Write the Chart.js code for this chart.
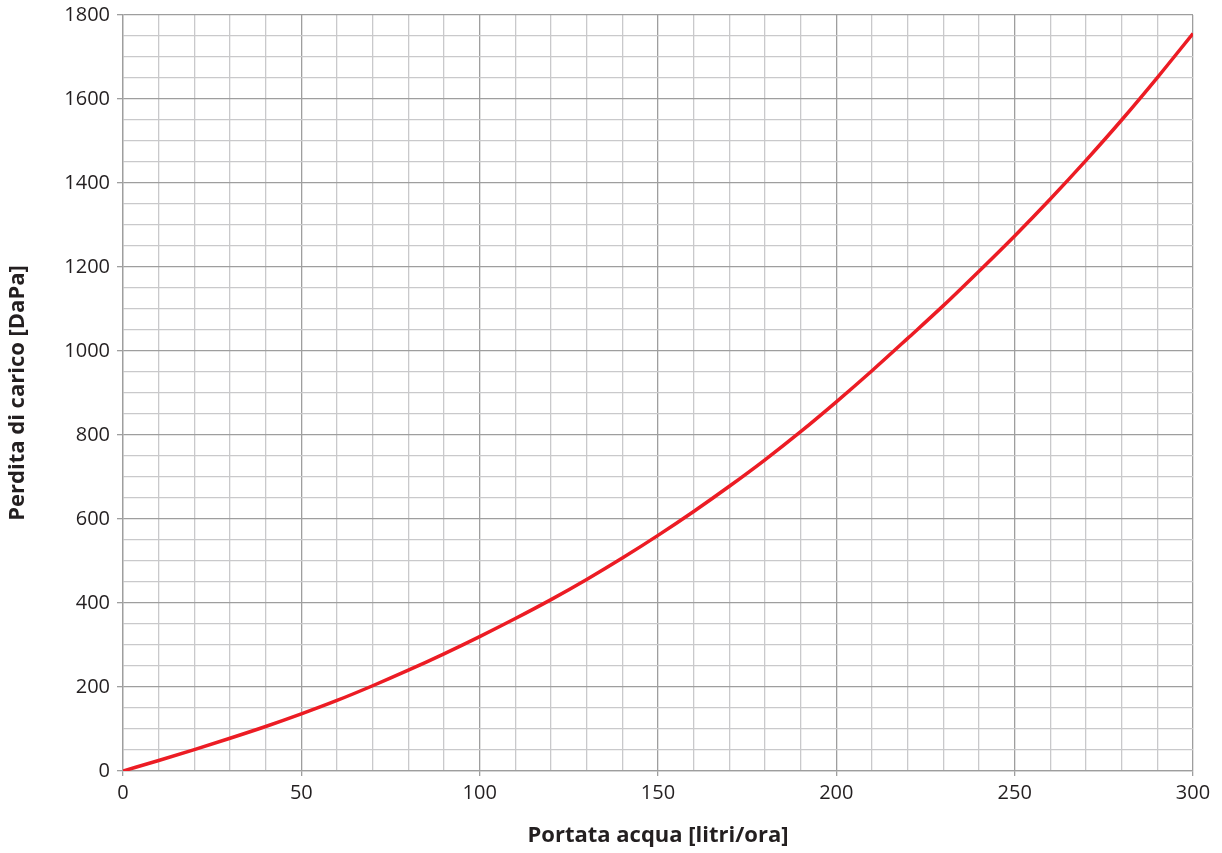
<!DOCTYPE html>
<html>
<head>
<meta charset="utf-8">
<script src="https://cdn.jsdelivr.net/npm/chart.js@4"></script>
<style>
  html, body { margin: 0; padding: 0; background: #fff; }
  #chart { display: block; }
</style>
</head>
<body>
<canvas id="chart" width="1222" height="853"></canvas>
<script>
// flow (litri/ora) and pressure drop (DaPa), every 10 l/h
const portata = [0, 10, 20, 30, 40, 50, 60, 70, 80, 90, 100, 110, 120, 130, 140, 150,
  160, 170, 180, 190, 200, 210, 220, 230, 240, 250, 260, 270, 280, 290, 300];
const perdita = [0, 25, 51, 78, 106, 136, 168, 203, 240, 279, 320, 363, 408, 456, 507, 561,
  618, 678, 741, 808, 879, 953, 1030, 1108, 1190, 1274, 1362, 1454, 1550, 1651, 1756];

const xTitle = "Portata acqua [litri/ora]";
const yTitle = "Perdita di carico [DaPa]";

const majorColor = "#9e9e9e";
const minorColor = "#c9c9cb";
const textColor = "#231f20";

new Chart(document.getElementById("chart"), {
  type: "line",
  data: {
    datasets: [
      {
        data: portata.map((x, i) => ({ x: x, y: perdita[i] })),
        borderColor: "#ec1c24",
        borderWidth: 3.5,
        pointRadius: 0,
        cubicInterpolationMode: "monotone",
        fill: false,
      },
    ],
  },
  options: {
    responsive: false,
    animation: false,
    layout: { padding: { left: 0, right: 29, top: 15, bottom: 0 } },
    plugins: {
      legend: { display: false },
      tooltip: { enabled: false },
    },
    scales: {
      x: {
        type: "linear",
        min: 0,
        max: 300,
        afterFit: (scale) => {
          scale.height = 82;
          scale.paddingLeft = 0;
          scale.paddingRight = 0;
        },
        border: { color: majorColor, width: 1.3 },
        grid: {
          color: (ctx) => (ctx.tick && ctx.tick.value % 50 === 0 ? majorColor : minorColor),
          lineWidth: 1.3,
          tickLength: 5,
          tickColor: (ctx) => (ctx.tick && ctx.tick.value % 50 === 0 ? majorColor : "rgba(0,0,0,0)"),
        },
        ticks: {
          stepSize: 10,
          autoSkip: false,
          maxRotation: 0,
          padding: 5,
          color: textColor,
          font: { family: "Open Sans", size: 20 },
          callback: (v) => (v % 50 === 0 ? v : ""),
        },
        title: {
          display: true,
          text: xTitle,
          color: textColor,
          font: { family: "Open Sans", size: 22, weight: "bold" },
          padding: { top: 0, bottom: 4 },
        },
      },
      y: {
        type: "linear",
        min: 0,
        max: 1800,
        afterFit: (scale) => {
          scale.width = 123;
          scale.paddingTop = 0;
          scale.paddingBottom = 0;
        },
        border: { color: majorColor, width: 1.3 },
        grid: {
          color: (ctx) => (ctx.tick && ctx.tick.value % 200 === 0 ? majorColor : minorColor),
          lineWidth: 1.3,
          tickLength: 6,
          tickColor: (ctx) => (ctx.tick && ctx.tick.value % 200 === 0 ? majorColor : "rgba(0,0,0,0)"),
        },
        ticks: {
          stepSize: 50,
          autoSkip: false,
          padding: 7,
          color: textColor,
          font: { family: "Open Sans", size: 20 },
          callback: (v) => (v % 200 === 0 ? v : ""),
        },
        title: {
          display: true,
          text: yTitle,
          color: textColor,
          font: { family: "Open Sans", size: 22, weight: "bold" },
          padding: { top: 5, bottom: 0 },
        },
      },
    },
  },
});
</script>
</body>
</html>
